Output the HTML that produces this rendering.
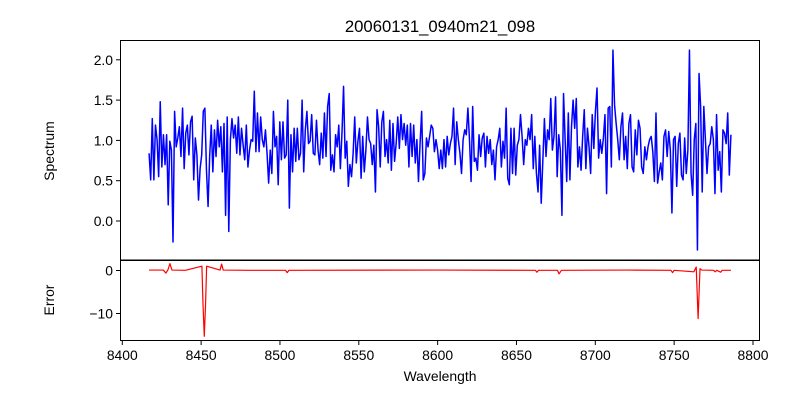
<!DOCTYPE html>
<html><head><meta charset="utf-8"><style>
html,body{margin:0;padding:0;background:#fff}
svg{display:block;font-family:"Liberation Sans","DejaVu Sans",sans-serif}
</style></head><body>
<svg id="chart" width="800" height="400" viewBox="0 0 800 400" xmlns="http://www.w3.org/2000/svg">
<rect x="0" y="0" width="800" height="400" fill="#fff"/>
<text x="440" y="32" font-size="16.7" text-anchor="middle">20060131_0940m21_098</text>
<g id="topAxes"></g>
<g id="botAxes"></g>
<text transform="translate(54,151) rotate(-90)" font-size="13.9" text-anchor="middle">Spectrum</text>
<text transform="translate(54,300) rotate(-90)" font-size="13.9" text-anchor="middle">Error</text>
<text x="440" y="381" font-size="13.9" text-anchor="middle">Wavelength</text>
</svg>
<script>
const wlStart = 8417, wlEnd = 8786;
const fluxValues = [
0.84,0.51,1.27,0.51,1.19,1.01,0.55,1.48,0.67,1.07,0.70,1.07,0.20,0.99,0.88,-0.26,1.36,0.92,1.03,1.17,0.80,1.40,0.65,1.09,1.19,0.82,1.23,1.30,0.51,1.03,0.82,0.26,0.65,0.82,1.36,1.40,0.63,0.18,0.80,1.19,0.61,1.13,0.80,1.25,0.92,1.17,0.61,1.21,0.07,1.29,-0.13,1.01,1.27,1.03,1.19,0.84,1.29,0.82,1.15,0.94,0.76,1.19,0.67,0.88,1.01,0.99,1.61,0.86,1.34,0.86,1.29,1.01,0.92,1.13,0.84,0.47,0.88,0.59,1.36,0.92,1.05,0.45,1.23,0.76,1.23,0.78,0.82,1.50,0.16,1.07,0.61,1.15,0.74,1.15,0.76,0.84,
1.50,0.61,1.13,1.36,0.96,0.99,1.32,0.84,0.82,1.25,0.88,0.70,1.09,0.78,1.34,0.80,1.42,1.58,0.63,0.82,0.61,1.07,0.92,1.19,0.65,1.09,1.67,0.78,0.99,0.43,0.70,0.55,0.84,1.29,0.72,0.99,1.15,0.53,1.05,0.61,0.88,1.29,1.01,0.96,0.70,0.94,0.36,1.38,1.17,0.67,1.23,1.36,0.80,1.01,0.72,1.25,0.63,1.21,0.74,0.96,1.29,0.90,1.32,1.01,1.21,0.94,1.19,0.67,1.21,0.80,1.19,0.72,1.01,0.49,0.96,1.36,0.51,0.59,1.03,0.92,1.05,1.19,1.15,0.86,1.01,0.88,0.65,0.88,0.65,1.01,0.67,1.05,0.82,0.96,1.05,1.40,0.70,1.23,1.01,0.84,0.59,1.01,
1.13,1.07,1.40,1.01,0.49,1.42,0.74,0.78,0.63,1.07,0.80,1.03,1.09,0.67,1.05,0.84,1.01,0.70,0.88,0.51,0.92,1.01,1.15,0.67,0.99,0.78,1.40,0.53,0.45,1.15,0.59,1.15,0.57,0.94,1.01,1.32,1.05,0.70,1.01,0.94,1.15,1.01,1.32,0.65,1.05,0.59,0.36,0.94,0.22,0.74,1.27,0.80,1.13,1.01,1.52,0.88,1.05,1.54,0.55,1.07,0.88,0.07,1.58,1.01,0.49,1.34,0.51,1.17,1.50,1.15,1.52,0.67,0.92,0.63,1.05,1.38,0.65,1.15,0.92,0.59,1.32,0.90,1.36,1.65,0.78,1.01,0.84,1.03,1.32,0.34,1.40,1.42,0.67,2.12,1.44,1.21,1.01,0.76,
1.17,1.34,0.76,1.05,0.65,1.21,1.32,0.67,0.61,1.13,0.82,1.25,1.15,0.67,0.59,0.92,0.76,0.92,1.01,1.05,0.86,0.49,1.34,0.47,0.61,0.72,0.51,1.05,1.13,0.80,1.11,0.88,0.10,1.01,1.05,0.43,0.96,1.09,0.57,0.51,1.03,0.59,0.88,2.12,0.59,0.32,1.01,1.21,-0.36,1.83,1.42,0.36,1.42,1.01,0.59,0.92,0.96,1.17,1.01,0.34,1.32,0.63,0.86,0.36,1.13,1.09,0.96,1.34,0.57,1.07
];
const errWave = [8417,8426,8427.7,8429,8430.2,8431.5,8440,8450.5,8451.2,8452,8452.8,8453.5,8462,8463,8464,8480,8503.5,8504.6,8505.7,8600,8662,8663,8664,8676,8677,8678.5,8720,8748,8749,8750,8762.5,8764,8765.2,8766.4,8767.5,8775,8776,8777,8779.5,8780.5,8786];
const errValues = [0.1,0.1,-0.6,0.2,1.6,0.1,0.05,1.0,-8,-15.3,-8,1.0,0.1,1.5,0.1,0.05,0.05,-0.5,0.05,0.1,0.05,-0.4,0.05,0.05,-0.8,0.05,0.1,0.05,-0.5,0.05,-0.3,0.8,-11.2,0.4,0.1,0.05,-0.3,0.05,-0.4,0.05,0.05];
const xTicks = [8400,8450,8500,8550,8600,8650,8700,8750,8800];
const topTicks = [0.0,0.5,1.0,1.5,2.0];
const botTicks = [0,-10];

const NS="http://www.w3.org/2000/svg";
const L=120,R=760;
const xMin=8398.55,xMax=8804.45;
const xs=v=>L+(v-xMin)/(xMax-xMin)*(R-L);
const ty=v=>221-v*80.6;
const by=v=>270.5-v*4.3;
function mk(tag,attrs,parent){const e=document.createElementNS(NS,tag);for(const k in attrs)e.setAttribute(k,attrs[k]);parent.appendChild(e);return e;}
const gTop=document.getElementById('topAxes'), gBot=document.getElementById('botAxes');

let d='';
const n=fluxValues.length;
fluxValues.forEach((v,i)=>{const w=wlStart+i*(wlEnd-wlStart)/(n-1);d+=(i?'L':'M')+xs(w).toFixed(2)+','+ty(v).toFixed(2);});
const sp=mk('path',{d:d,fill:'none',stroke:'#0000ff','stroke-width':1.5,'stroke-linejoin':'round'},gTop);



let d2='';
errWave.forEach((w,i)=>{d2+=(i?'L':'M')+xs(w).toFixed(2)+','+by(errValues[i]).toFixed(2);});
const er=mk('path',{d:d2,fill:'none',stroke:'#ff0000','stroke-width':1.2,'stroke-linejoin':'round'},gBot);



const f1=mk('rect',{x:120.5,y:40.5,width:639,height:219.5,fill:'none',stroke:'#000','stroke-width':1},gTop);


const f2=mk('rect',{x:120.5,y:260.5,width:639,height:80,fill:'none',stroke:'#000','stroke-width':1},gBot);



topTicks.forEach(t=>{const y=ty(t);
 mk('line',{x1:116,x2:120.5,y1:y,y2:y,stroke:'#000'},gTop);
 const tx=mk('text',{x:113,y:y+5,'font-size':13.9,'text-anchor':'end'},gTop);
 tx.textContent=t.toFixed(1);
 
 
});
botTicks.forEach(t=>{const y=by(t);
 mk('line',{x1:116,x2:120.5,y1:y,y2:y,stroke:'#000'},gBot);
 const tx=mk('text',{x:113,y:y+5,'font-size':13.9,'text-anchor':'end'},gBot);
 tx.textContent=t<0?'\u2212'+Math.abs(t):String(t);
 
 
});
xTicks.forEach(t=>{const x=xs(t);
 mk('line',{x1:x,x2:x,y1:340.5,y2:345,stroke:'#000'},gBot);
 const tx=mk('text',{x:x,y:360,'font-size':13.9,'text-anchor':'middle'},gBot);
 tx.textContent=t;
 
 
});
</script>
</body></html>
